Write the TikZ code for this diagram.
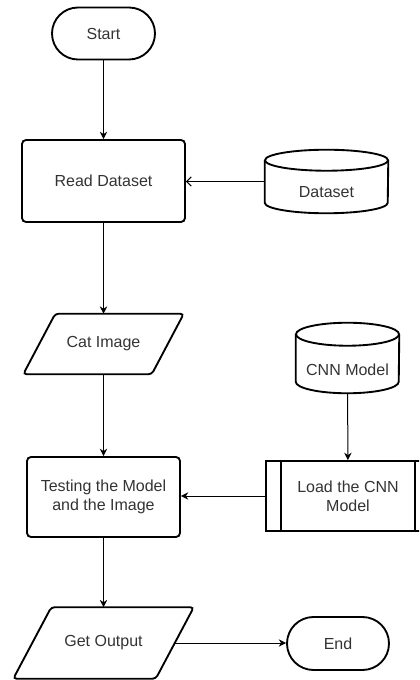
\documentclass[tikz,border=0pt]{standalone}
\usepackage{fontspec}
\setmainfont{Liberation Sans}
\usetikzlibrary{arrows.meta,calc}
\definecolor{txtc}{HTML}{333333}
\begin{document}
\begin{tikzpicture}[x=0.75pt,y=0.75pt,
  shp/.style={draw=black, line width=1.4pt},
  txt/.style={text=txtc, font=\fontsize{12pt}{14.25pt}\selectfont, align=center},
  term/.style={shp, txt, rounded corners=19.5pt, minimum width=77.25pt, minimum height=39pt, inner sep=0pt},
  proc/.style={shp, txt, rounded corners=3pt, inner sep=0pt},
  ghost/.style={txt, inner sep=0pt},
  conn/.style={line width=0.75pt, -{Stealth[length=5.5pt,width=5.5pt]}},
  openconn/.style={line width=0.75pt, -{Straight Barb[length=3.5pt,width=7pt]}}
]
\useasboundingbox (0,0) rectangle (419,-680);
\clip (0,0) rectangle (419,-680);

% Start
\node[term] (start) at (103.5,-33.5) {Start};

% Read Dataset
\node[proc, minimum width=122.25pt, minimum height=61.5pt] (read) at (103.5,-181) {Read Dataset};

% Dataset cylinder
\node[ghost, minimum width=92.25pt, minimum height=47.25pt] (ds) at (326.5,-181.5) {};
\draw[shp] ($(ds.north west)+(0,-10.5)$) -- ($(ds.south west)+(0,10.5)$)
  arc[start angle=180, end angle=360, x radius=46.125pt, y radius=7.875pt]
  -- ($(ds.north east)+(0,-10.5)$);
\draw[shp] ($(ds.north)+(0,-10.5)$) ellipse[x radius=46.125pt, y radius=7.875pt];
\node[txt] (dstext) at ($(ds.center)+(0,-10.5)$) {Dataset};

% Cat Image parallelogram
\node[ghost, minimum width=96pt, minimum height=45pt] (cat) at (103.5,-344) {Cat Image};
\draw[shp, rounded corners=2.5pt] (cat.north) -- ($(cat.north east)+(16,0)$) -- ($(cat.south east)+(-16,0)$)
  -- ($(cat.south west)+(-16,0)$) -- ($(cat.north west)+(16,0)$) -- cycle;

% CNN Model cylinder
\node[ghost, minimum width=77.25pt, minimum height=52.5pt] (cnn) at (347.5,-358) {};
\draw[shp] ($(cnn.north west)+(0,-11.5)$) -- ($(cnn.south west)+(0,11.5)$)
  arc[start angle=180, end angle=360, x radius=38.625pt, y radius=8.625pt]
  -- ($(cnn.north east)+(0,-11.5)$);
\draw[shp] ($(cnn.north)+(0,-11.5)$) ellipse[x radius=38.625pt, y radius=8.625pt];
\node[txt] (cnntext) at ($(cnn.center)+(0,-11.5)$) {CNN Model};

% Load the CNN Model (predefined process)
\node[shp, txt, minimum width=123pt, minimum height=52.5pt, inner sep=0pt] (load) at (348,-496) {Load the CNN\\Model};
\draw[shp] ([xshift=12pt]load.north west) -- ([xshift=12pt]load.south west);
\draw[shp] ([xshift=-12pt]load.north east) -- ([xshift=-12pt]load.south east);

% Testing
\node[proc, minimum width=114.75pt, minimum height=60pt] (test) at (103.5,-497) {Testing the Model\\and the Image};

% Get Output parallelogram
\node[ghost, minimum width=106.5pt, minimum height=53.25pt] (get) at (103.5,-643) {Get Output};
\draw[shp, rounded corners=2.5pt] (get.north) -- ($(get.north east)+(19,0)$) -- ($(get.south east)+(-19,0)$)
  -- ($(get.south west)+(-19,0)$) -- ($(get.north west)+(19,0)$) -- cycle;

% End
\node[term, minimum width=76.5pt, minimum height=39.75pt, rounded corners=19.875pt] (endn) at (338,-643.5) {End};

% Connectors
\draw[conn] (start) -- (read);
\draw[conn] (read) -- (cat);
\draw[conn] (cat) -- (test);
\draw[conn] (test) -- (get);
\draw[conn] (cnn) -- (load);
\draw[conn] (load.west) -- (load.west -| test.east);
\draw[conn] (get.east) -- (get.east -| endn.west);
\draw[openconn] (ds.west) -- (ds.west -| read.east);
\end{tikzpicture}
\end{document}
